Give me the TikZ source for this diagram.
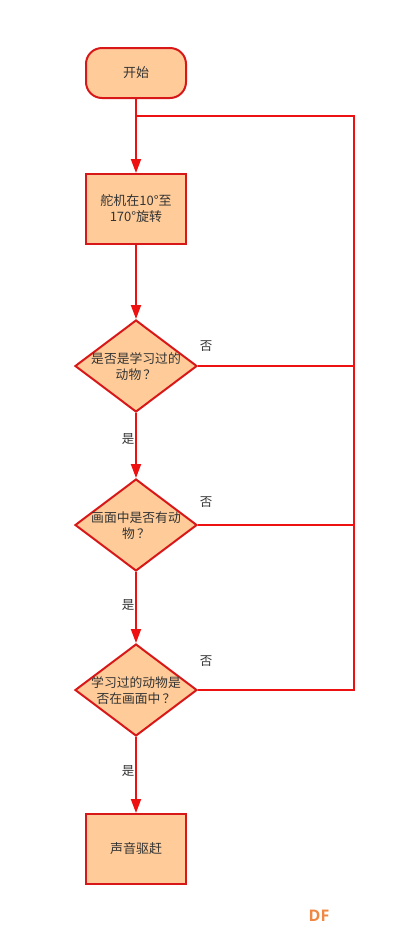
\documentclass[tikz,border=0pt]{standalone}
\usepackage{fontspec}
\setmainfont{Noto Sans CJK SC}
\newfontfamily\dffont{Open Sans}
\usetikzlibrary{shapes.geometric,arrows.meta,calc}
\definecolor{fillc}{HTML}{FFCC99}
\definecolor{bordc}{HTML}{D81818}
\definecolor{linec}{HTML}{EE1111}
\definecolor{txtc}{HTML}{333333}
\definecolor{dfc}{HTML}{EE8844}
\begin{document}
\begin{tikzpicture}[x=1pt,y=-1pt,
  flow/.style={draw=bordc, line width=2pt, fill=fillc, text=txtc,
    font=\fontsize{13}{16}\selectfont, align=center, inner sep=0pt},
  proc/.style={flow, rectangle, minimum width=100pt, minimum height=70pt},
  startbox/.style={flow, rectangle, rounded corners=16pt, minimum width=100pt, minimum height=50pt},
  decision/.style={flow, diamond, minimum width=122pt, minimum height=92pt},
  dtext/.style={text=txtc, font=\fontsize{12.8}{16}\selectfont, align=center, inner sep=0pt},
  lab/.style={text=txtc, font=\fontsize{12.5}{14}\selectfont, inner sep=0pt},
  conn/.style={draw=linec, line width=2pt},
  arr/.style={conn, -{Triangle[length=14pt,width=10pt]}}
]
\useasboundingbox (0,0) rectangle (416,946);

\node[startbox] (start) at (136,73) {开始};
\node[proc] (b1) at (136,209) {舵机在10°至\\170°旋转};
\node[decision] (d1) at (136,366) {};
\node[dtext] (t1) at (136,367) {是否是学习过的\\动物\,？};
\node[decision] (d2) at (136,525) {};
\node[dtext] (t2) at (136,526) {画面中是否有动\\物\,？};
\node[decision] (d3) at (136,690) {};
\node[dtext] (t3) at (136,691) {学习过的动物是\\否在画面中\,？};
\node[proc] (e) at (136,849) {声音驱赶};

\coordinate (ltop) at (136,116);
\coordinate (rtop) at (354,116);
\coordinate (rbot) at (354,690);

\draw[arr] (start) -- (b1);
\draw[arr] (b1) -- (d1);
\draw[arr] (d1) -- node[lab, pos=0.4, xshift=-8pt] (y1) {是} (d2);
\draw[arr] (d2) -- node[lab, pos=0.47, xshift=-8pt] (y2) {是} (d3);
\draw[arr] (d3) -- node[lab, pos=0.45, xshift=-8pt] (y3) {是} (e);

\draw[conn] (d3.east) -- (rbot) -- (rtop) -- (ltop);
\draw[conn] (d1.east) -- (d1.east -| rtop);
\draw[conn] (d2.east) -- (d2.east -| rtop);

\node[lab] (n1) at ($(d1.east)+(8,-20)$) {否};
\node[lab] (n2) at ($(d2.east)+(8,-23)$) {否};
\node[lab] (n3) at ($(d3.east)+(8,-29)$) {否};

\node[text=dfc, font=\dffont\bfseries\fontsize{16}{18}\selectfont, inner sep=0pt] (df) at (319,916) {DF};
\end{tikzpicture}
\end{document}
